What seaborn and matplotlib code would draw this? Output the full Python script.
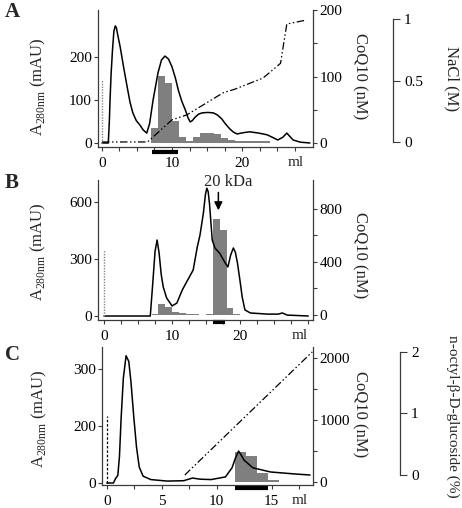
import numpy as np
import matplotlib
matplotlib.use("Agg")
import matplotlib.pyplot as plt
from matplotlib.ticker import FixedLocator, FixedFormatter
import seaborn as sns

# ---- panel A: elution profile, CoQ10 fractions, NaCl gradient ----
a_ml = [0, 0.9, 1.05, 1.15, 1.3, 1.5, 1.7, 1.9, 2.05, 2.2, 2.6, 3.1, 3.6, 4.0,
        4.4, 4.9, 5.4, 5.9, 6.4, 6.8, 7.3, 8.0, 8.5, 9.0, 9.5, 10.0, 10.5, 10.9,
        11.4, 11.9, 12.3, 12.6, 12.9, 13.3, 13.8, 14.3, 15.1, 15.9, 16.5, 17.1,
        17.7, 18.3, 18.8, 19.3, 20.2, 21.1, 22.4, 23.6, 24.5, 25.1, 25.8, 26.4,
        26.9, 27.3, 28.3, 29.7]
a_mau = [0, 0, 50, 100, 160, 216, 260, 272, 268, 255, 223, 175, 130, 95,
         70, 52, 42, 30, 23, 45, 100, 163, 193, 202, 195, 177, 150, 123,
         97, 77, 58, 49, 52, 60, 67, 70, 71, 70, 65, 56,
         43, 32, 25, 21, 24, 26, 23, 19, 12, 7, 13, 23,
         14, 7, 2, 0]
a_bar_ml = [7.5, 8.5, 9.5, 10.5, 11.5, 12.5, 13.5, 14.5, 15.5, 16.5, 17.5, 18.5,
            19.5, 20.5, 21.5, 22.5, 23.5]
a_bar_nm = [22, 101, 90, 33, 9, 3, 9, 15, 15, 13, 8, 5, 3, 3, 3, 3, 3]
a_nacl_ml = [0, 6.5, 10.0, 12.1, 17.3, 19.0, 23.0, 25.5, 26.4, 29.0]
a_nacl_m = [0, 0, 0.18, 0.22, 0.40, 0.43, 0.52, 0.64, 0.96, 0.99]

# ---- panel B: gel filtration ----
b_ml = [0, 6.8, 7.2, 7.5, 7.8, 8.1, 8.4, 8.7, 9.2, 10.0, 10.7, 11.5, 12.3, 13.1,
        13.7, 14.1, 14.6, 14.9, 15.1, 15.3, 15.5, 15.9, 16.3, 17.0, 17.8, 18.2,
        18.6, 19.0, 19.3, 19.6, 20.0, 20.3, 20.7, 21.5, 24.0, 25.6, 26.2, 26.9,
        30.0]
b_mau = [0, 0, 190, 340, 400, 330, 220, 153, 95, 53, 68, 137, 190, 242,
         363, 426, 542, 640, 673, 655, 590, 400, 358, 330, 280, 258,
         320, 358, 335, 280, 180, 100, 32, 16, 10, 10, 16, 5,
         0]
b_bar_ml = [7.5, 8.5, 9.5, 10.5, 11.5, 12.5, 13.5, 14.5, 15.5, 16.5, 17.5, 18.5, 19.5]
b_bar_nm = [10, 83, 63, 25, 12, 6, 4, 2, 8, 725, 640, 53, 8]

# ---- panel C: detergent gradient ----
c_ml = [0, 0.6, 0.8, 1.0, 1.15, 1.3, 1.5, 1.75, 2.0, 2.2, 2.45, 2.7, 2.95, 3.3,
        4.0, 5.5, 7.0, 7.8, 8.5, 9.5, 10.8, 11.4, 11.7, 12.0, 12.2, 12.5, 13.3,
        14.9, 17.0, 18.5]
c_mau = [0, 0, 12, 20, 70, 170, 275, 335, 320, 265, 175, 95, 42, 18,
         9, 5, 6, 13, 10, 9, 16, 40, 65, 84, 75, 60, 40,
         29, 24, 21]
c_bar_ml = [12.2, 13.2, 14.2, 15.2]
c_bar_nm = [490, 420, 150, 25]
c_det_ml = [7.1, 18.7]
c_det_pct = [0, 2.0]

sns.set_style("ticks")
plt.rcParams["font.family"] = ["Liberation Serif", "DejaVu Serif"]
plt.rcParams["mathtext.fontset"] = "custom"
plt.rcParams["mathtext.rm"] = "Liberation Serif"

SPINE = "#3a3a3a"
BAR = "#7f7f7f"
DASHDOT = (0, (6, 2, 1.2, 2, 1.2, 2))
FS = 11
LFS = 12
W, H = 462, 508

fig = plt.figure(figsize=(W / 100, H / 100), dpi=100)


def add_axes(l, t, r, b):
    return fig.add_axes([l / W, 1 - b / H, (r - l) / W, (b - t) / H])


def style(ax, side):
    for s in ["left", "right", "top", "bottom"]:
        ax.spines[s].set_visible(s in side)
        ax.spines[s].set_color(SPINE)
        ax.spines[s].set_linewidth(0.9)
    ax.tick_params(colors=SPINE, labelcolor="black", labelsize=FS,
                   length=3, width=0.8, pad=1.5)


def panel(box, ml, mau, bar_ml, bar_nm, xlim, ylim, y2lim):
    ax = add_axes(*box)
    ax2 = ax.twinx()
    ax2.set_zorder(1)
    ax.set_zorder(2)
    ax.patch.set_visible(False)
    sns.histplot(x=bar_ml, weights=bar_nm, binwidth=1,
                 binrange=(bar_ml[0] - 0.5, bar_ml[-1] + 0.5), ax=ax2,
                 color=BAR, alpha=1, linewidth=0)
    sns.lineplot(x=ml, y=mau, ax=ax, color="black", lw=1.1, sort=False,
                 errorbar=None)
    ax.set_xlim(xlim)
    ax.set_ylim(ylim)
    ax2.set_ylim(y2lim)
    style(ax, ["left", "bottom"])
    style(ax2, ["right"])
    ax.tick_params(axis="x", which="both", pad=4.5)
    ax.set_xlabel("")
    ax2.set_xlabel("")
    ax.set_ylabel(r"A$_{\mathregular{280nm}}$ (mAU)", fontsize=LFS)
    ax2.set_ylabel("CoQ10 (nM)", fontsize=LFS, rotation=270, va="center")
    return ax, ax2


def finish_x(ax, major, minor, ml_x, pool, pool_y):
    ax.xaxis.set_major_locator(FixedLocator(major))
    ax.xaxis.set_minor_locator(FixedLocator(minor))
    ax.tick_params(axis="x", which="minor", length=3, width=0.8, colors=SPINE)
    ax.annotate("ml", xy=(ml_x, 0), xycoords=ax.get_xaxis_transform(),
                xytext=(0, -6.7), textcoords="offset points",
                ha="center", va="top", fontsize=FS)
    ax.plot(pool, [pool_y, pool_y], transform=ax.get_xaxis_transform(),
            color="black", lw=3, clip_on=False, solid_capstyle="butt")


def gradient_axis(ax, pos, lim, ticks, labels, label, label_x, lfs):
    ax3 = ax.twinx()
    ax3.set_zorder(3)
    style(ax3, ["right"])
    ax3.spines["right"].set_position(("axes", pos))
    ax3.spines["right"].set_bounds(ticks[0], ticks[-1])
    ax3.set_ylim(lim)
    ax3.yaxis.set_major_locator(FixedLocator(ticks))
    ax3.yaxis.set_major_formatter(FixedFormatter(labels))
    ax3.tick_params(length=5, pad=3)
    ax3.set_ylabel(label, fontsize=lfs, rotation=270, va="center")
    ax3.yaxis.set_label_coords(label_x, 0.5)
    return ax3


# ---------------- A ----------------
axA, axA2 = panel((98, 10, 313, 147), a_ml, a_mau, a_bar_ml, a_bar_nm,
                  (-0.57, 30.14), (-9.3, 309), (-6, 200))
axA.vlines(0, 0, 147, colors="#888888", linestyles=(0, (1, 1)), lw=1)
axA.set_yticks([0, 100, 200])
axA2.set_yticks([0, 100, 200])
axA2.yaxis.set_minor_locator(FixedLocator([50, 150]))
axA2.tick_params(axis="y", which="minor", length=3, width=0.8, colors=SPINE)
finish_x(axA, [0, 10, 20], np.arange(0, 28, 2.5), 27.7, [7.1, 10.9], -0.036)
axA3 = gradient_axis(axA, 1.372, (-0.041, 1.074), [0, 0.5, 1], ["0", "0.5", "1"],
                     "NaCl (M)", 1.647, LFS)
sns.lineplot(x=a_nacl_ml, y=a_nacl_m, ax=axA3, color="black", lw=0.9,
             linestyle=DASHDOT, sort=False, errorbar=None)
axA3.set_ylim(-0.041, 1.074)
axA.yaxis.set_label_coords(-0.233, 0.44)
axA2.yaxis.set_label_coords(1.219, 0.52)

# ---------------- B ----------------
axB, axB2 = panel((98, 180, 313, 320), b_ml, b_mau, b_bar_ml, b_bar_nm,
                  (-0.88, 30.7), (-21, 716), (-38, 1019))
axB.vlines(0, 0, 347, colors="#888888", linestyles=(0, (1, 1)), lw=1)
axB.set_yticks([0, 300, 600])
axB2.set_yticks([0, 400, 800])
axB2.yaxis.set_minor_locator(FixedLocator([200, 600]))
axB2.tick_params(axis="y", which="minor", length=3, width=0.8, colors=SPINE)
finish_x(axB, [0, 10, 20], np.arange(0, 30.1, 2.5), 28.8, [16.0, 17.8], -0.014)
axB.annotate("", xy=(16.8, 542), xytext=(16.8, 665),
             arrowprops=dict(arrowstyle="-|>", color="black", lw=1.1,
                             mutation_scale=12))
axB.text(18.2, 705, "20 kDa", ha="center", va="center", fontsize=LFS,
         clip_on=False)
axB.yaxis.set_label_coords(-0.233, 0.49)
axB2.yaxis.set_label_coords(1.219, 0.46)

# ---------------- C ----------------
axC, axC2 = panel((102, 347, 313, 485), c_ml, c_mau, c_bar_ml, c_bar_nm,
                  (-0.44, 18.77), (-5.3, 358), (-48, 2177))
axC.vlines(0, 0, 176, colors="black", linestyles=(0, (2, 1.5)), lw=0.9)
axC.yaxis.set_major_locator(FixedLocator([0, 150, 300]))
axC.yaxis.set_major_formatter(FixedFormatter(["0", "200", "300"]))
axC2.set_yticks([0, 1000, 2000])
axC2.yaxis.set_minor_locator(FixedLocator([500, 1500]))
axC2.tick_params(axis="y", which="minor", length=3, width=0.8, colors=SPINE)
finish_x(axC, [0, 5, 10, 15], np.arange(0, 18, 2.5), 17.6, [11.7, 14.7], -0.022)
axC3 = gradient_axis(axC, 1.412, (-0.163, 2.08), [0, 1, 2], ["0", "1", "2"],
                     "n-octyl-β-D-glucoside (%)", 1.66, 11)
sns.lineplot(x=c_det_ml, y=c_det_pct, ax=axC3, color="black", lw=0.9,
             linestyle=DASHDOT, sort=False, errorbar=None)
axC3.set_ylim(-0.163, 2.08)
axC.yaxis.set_label_coords(-0.25, 0.48)
axC2.yaxis.set_label_coords(1.223, 0.51)

for letter, (x, y) in zip("ABC", [(12, 12), (12, 183), (12, 355)]):
    fig.text(x / W, 1 - y / H, letter, fontsize=15, fontweight="bold",
             ha="center", va="center")

fig.savefig("out.png", dpi=100)
